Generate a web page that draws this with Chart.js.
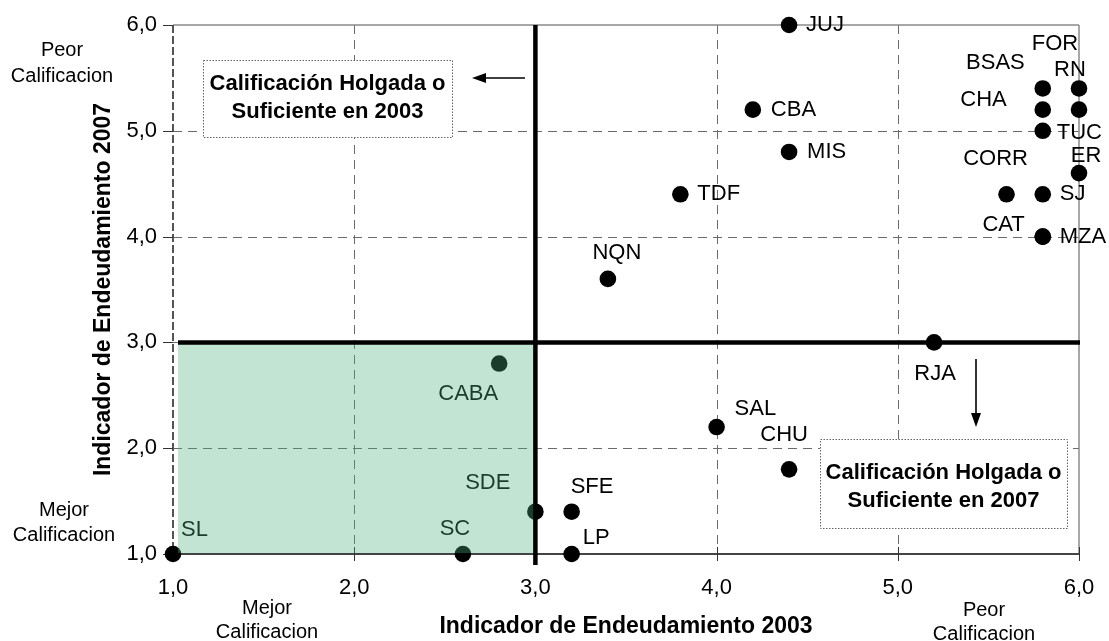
<!DOCTYPE html>
<html><head><meta charset="utf-8">
<script src="https://cdn.jsdelivr.net/npm/chart.js@4.4.1/dist/chart.umd.min.js"></script>
<style>html,body{margin:0;padding:0;background:#fff}#wrap{width:1109px;height:641px}</style>
</head><body><div id="wrap"><canvas id="c" width="1109" height="641"></canvas></div>
<script>
// ---- data ----
const provinces = ['JUJ','CBA','MIS','TDF','NQN','RJA','SAL','CHU','SFE','LP','SDE','SC','SL','CABA','BSAS','FOR','RN','CHA','TUC','CORR','ER','SJ','CAT','MZA'];
const indicador2003 = [4.4,4.2,4.4,3.8,3.4,5.2,4.0,4.4,3.2,3.2,3.0,2.6,1.0,2.8,5.8,6.0,6.0,5.8,5.8,5.6,6.0,5.8,5.8,5.8];
const indicador2007 = [6.0,5.2,4.8,4.4,3.6,3.0,2.2,1.8,1.4,1.0,1.4,1.0,1.0,2.8,5.4,5.4,5.2,5.2,5.0,4.4,4.6,4.4,4.0,4.0];
const axisMin = 1, axisMax = 6, axisStep = 1;
const refX = 3, refY = 3;
const xTitle = 'Indicador de Endeudamiento 2003';
const yTitle = 'Indicador de Endeudamiento 2007';
const box2003Lines = ['Calificación Holgada o','Suficiente en 2003'];
const box2007Lines = ['Calificación Holgada o','Suficiente en 2007'];
const betterLines = ['Mejor','Calificacion'];
const worseLines = ['Peor','Calificacion'];

// ---- label placement (pixel offsets from the point) ----
const labelPlacement = {
  JUJ:[17,0,'left'], CBA:[18,0,'left'], MIS:[18,0,'left'], TDF:[17,0,'left'],
  NQN:[9,-26,'center'], RJA:[1,32,'center'], SAL:[18,-18,'left'], CHU:[-5,-34,'center'],
  SFE:[-1,-25,'left'], LP:[11,-16,'left'], SDE:[-25,-29,'right'], SC:[-8,-25,'center'],
  SL:[8,-24,'left'], CABA:[-1,30,'right'], BSAS:[-18,-26,'right'], FOR:[-24,-45,'center'],
  RN:[-9,-40,'center'], CHA:[-36,-10,'right'], TUC:[14,2,'left'], CORR:[-11,-35,'center'],
  ER:[7,-17,'center'], SJ:[17,0,'left'], CAT:[-18,-12,'right'], MZA:[17,0,'left']
};

const FONT = '"Liberation Sans", Arial, sans-serif';
const fmt = v => Number(v).toFixed(1).replace('.', ',');

function seg(ctx,x1,y1,x2,y2){ctx.beginPath();ctx.moveTo(x1,y1);ctx.lineTo(x2,y2);ctx.stroke();}

const decor = {
  id:'decor',
  beforeDatasetsDraw(chart){
    const {ctx, chartArea:a, scales:{x,y}} = chart;
    ctx.save();
    ctx.lineWidth = 1; ctx.strokeStyle = '#6a6a6a'; ctx.setLineDash([9,6]);
    x.ticks.forEach(t => {
      if (t.value === axisMin || t.value === axisMax) return;
      const px = Math.round(x.getPixelForValue(t.value)) + 0.5;
      seg(ctx, px, a.top, px, a.bottom);
    });
    y.ticks.forEach(t => {
      if (t.value === axisMin || t.value === axisMax) return;
      const py = Math.round(y.getPixelForValue(t.value)) + 0.5;
      seg(ctx, a.left, py, a.right, py);
    });
    ctx.setLineDash([]);
    ctx.strokeStyle = '#8a8a8a'; ctx.lineWidth = 1.5;
    seg(ctx, a.left, a.top, a.right, a.top);
    seg(ctx, a.right, a.top, a.right, a.bottom);
    ctx.strokeStyle = '#555'; ctx.lineWidth = 2; ctx.setLineDash([8,3]);
    seg(ctx, a.left, a.top, a.left, a.bottom);
    ctx.setLineDash([]);
    ctx.strokeStyle = '#444'; ctx.lineWidth = 2;
    seg(ctx, a.left, a.bottom, a.right, a.bottom);
    ctx.lineWidth = 1; ctx.strokeStyle = '#333';
    y.ticks.forEach(t => { const py = Math.round(y.getPixelForValue(t.value)) + 0.5; seg(ctx, a.left-10, py, a.left, py); });
    x.ticks.forEach(t => { const px = Math.round(x.getPixelForValue(t.value)) + 0.5; seg(ctx, px, a.bottom-7, px, a.bottom+7); });
    ctx.restore();
  },
  afterDatasetsDraw(chart){
    const {ctx, chartArea:a, scales:{x,y}} = chart;
    ctx.save();
    // data labels
    ctx.fillStyle = '#000'; ctx.font = '22px ' + FONT; ctx.textBaseline = 'middle';
    const meta = chart.getDatasetMeta(0);
    meta.data.forEach((pt, i) => {
      const name = provinces[i];
      const p = labelPlacement[name] || [14,0,'left'];
      ctx.textAlign = p[2];
      ctx.fillText(name, pt.x + p[0], pt.y + p[1]);
    });
    // green quadrant overlay
    const gx0 = x.getPixelForValue(axisMin) + 5, gx1 = x.getPixelForValue(refX);
    const gy0 = y.getPixelForValue(refY), gy1 = y.getPixelForValue(axisMin) - 1;
    ctx.fillStyle = 'rgba(76,176,126,0.34)';
    ctx.fillRect(gx0, gy0, gx1-gx0, gy1-gy0);
    // thick reference lines
    ctx.strokeStyle = '#000'; ctx.lineWidth = 4.5;
    seg(ctx, gx0, gy0, a.right+1, gy0);
    seg(ctx, gx1, a.top, gx1, a.bottom+11);
    // boxes
    const drawBox = (bx, by, bw, bh, lines, ys) => {
      ctx.fillStyle = '#fff'; ctx.fillRect(bx, by, bw, bh);
      ctx.strokeStyle = '#666'; ctx.lineWidth = 1; ctx.setLineDash([1.5,1.5]);
      ctx.strokeRect(bx+0.5, by+0.5, bw, bh);
      ctx.setLineDash([]);
      ctx.fillStyle = '#000'; ctx.font = 'bold 22px ' + FONT; ctx.textAlign = 'center'; ctx.textBaseline = 'middle';
      lines.forEach((l, k) => ctx.fillText(l, bx + bw/2, ys[k]));
    };
    drawBox(203, 60, 249, 77, box2003Lines, [84, 112]);
    drawBox(820, 439, 247, 89, box2007Lines, [473, 501]);
    // arrows
    ctx.strokeStyle = '#000'; ctx.fillStyle = '#000'; ctx.lineWidth = 1.6;
    seg(ctx, 525, 78, 482, 78);
    ctx.beginPath(); ctx.moveTo(472,78); ctx.lineTo(486,73); ctx.lineTo(486,83); ctx.closePath(); ctx.fill();
    seg(ctx, 976, 359, 976, 416);
    ctx.beginPath(); ctx.moveTo(976,427); ctx.lineTo(971,413); ctx.lineTo(981,413); ctx.closePath(); ctx.fill();
    // axis titles
    ctx.fillStyle = '#000'; ctx.font = 'bold 23px ' + FONT; ctx.textAlign = 'center'; ctx.textBaseline = 'middle';
    ctx.fillText(xTitle, (a.left + a.right)/2, 627);
    ctx.save(); ctx.translate(104, (a.top + a.bottom)/2); ctx.rotate(-Math.PI/2); ctx.fillText(yTitle, 0, 0); ctx.restore();
    // corner notes
    ctx.font = '20px ' + FONT;
    const two = (lines, cx, y1, y2) => { ctx.fillText(lines[0], cx, y1); ctx.fillText(lines[1], cx, y2); };
    two(worseLines, 62, 50, 76);
    two(betterLines, 64, 510, 535);
    two(betterLines, 267, 608, 632);
    two(worseLines, 984, 610, 634);
    ctx.restore();
  }
};

new Chart(document.getElementById('c'), {
  type: 'scatter',
  data: { datasets: [{
    data: indicador2003.map((v, i) => ({x: v, y: indicador2007[i]})),
    backgroundColor: '#000', borderColor: '#000', borderWidth: 0,
    pointRadius: 8.3, pointHoverRadius: 8.3, showLine: false, clip: false
  }]},
  options: {
    responsive: false, animation: false, devicePixelRatio: 1,
    layout: { padding: { left: 0, right: 30, top: 25, bottom: 0 } },
    plugins: { legend: { display: false }, tooltip: { enabled: false } },
    scales: {
      x: { type: 'linear', min: axisMin, max: axisMax,
        ticks: { stepSize: axisStep, padding: 0, color: '#000', font: { family: FONT, size: 22 }, callback: fmt, maxRotation: 0 },
        grid: { display: false, drawTicks: true, tickLength: 21 }, border: { display: false },
        afterFit(s){ s.height = 87; } },
      y: { type: 'linear', min: axisMin, max: axisMax,
        ticks: { stepSize: axisStep, padding: 0, color: '#000', font: { family: FONT, size: 22 }, callback: fmt },
        grid: { display: false, drawTicks: true, tickLength: 16 }, border: { display: false },
        afterFit(s){ s.width = 173; } }
    }
  },
  plugins: [decor]
});
</script></body></html>
